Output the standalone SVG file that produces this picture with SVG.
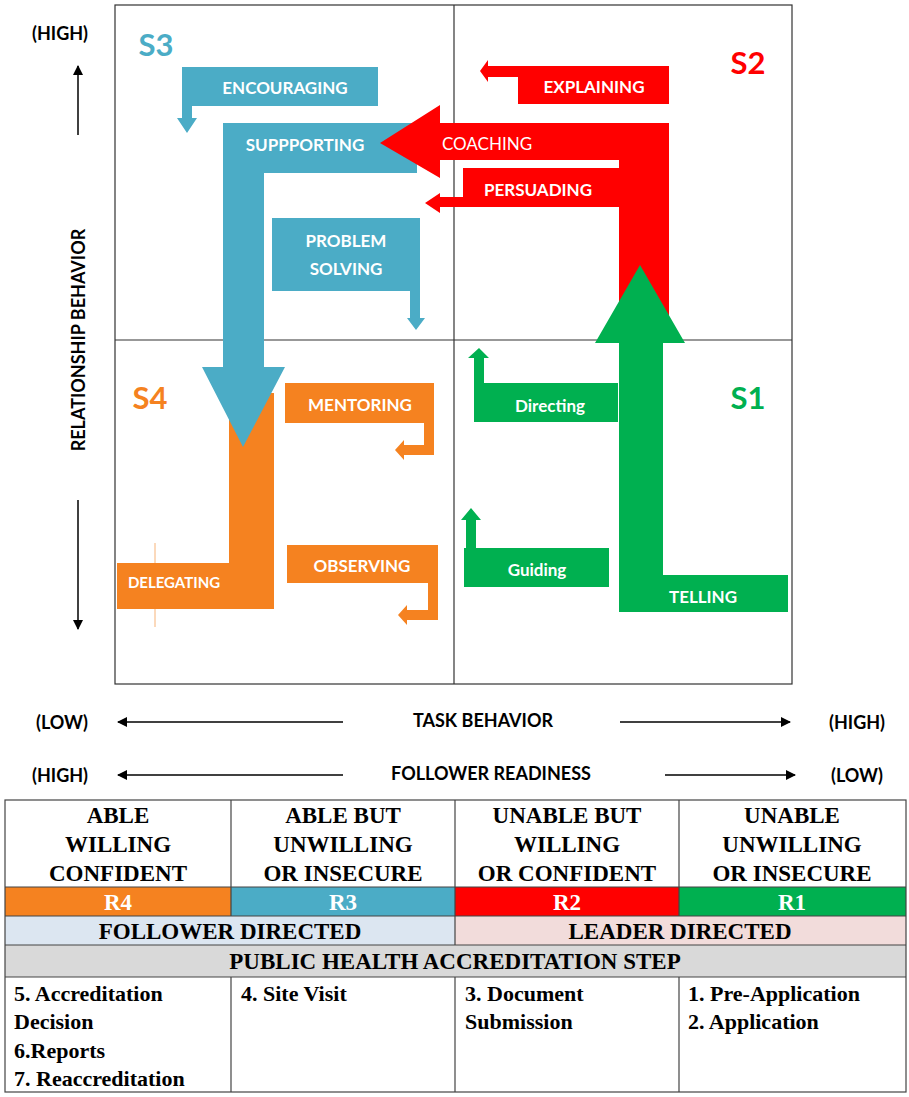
<svg xmlns="http://www.w3.org/2000/svg" width="909" height="1097" viewBox="0 0 909 1097">
<style>
.lb{font-family:Lato,"Open Sans",sans-serif;font-weight:bold;fill:#fff;font-size:17px;text-anchor:middle;dominant-baseline:central}
.ax{font-family:Lato,"Open Sans",sans-serif;font-weight:bold;fill:#000;font-size:18px;text-anchor:middle;dominant-baseline:central}
.s{font-family:Lato,"Open Sans",sans-serif;font-weight:bold;font-size:31px;text-anchor:middle;dominant-baseline:central}
.t{font-family:"Liberation Serif",serif;font-weight:bold;font-size:23px;text-anchor:middle;dominant-baseline:central}
.st{font-family:"Liberation Serif",serif;font-weight:bold;font-size:22px;dominant-baseline:central}
.ln{stroke:#000;stroke-width:1.5;fill:none}
.b{fill:#4BACC6}.r{fill:#FF0000}.g{fill:#00B050}.o{fill:#F58220}
</style>
<defs>
<marker id="ah" markerWidth="10" markerHeight="10" refX="9" refY="5" orient="auto" markerUnits="userSpaceOnUse"><path d="M0,0 L10,5 L0,10 Z" fill="#000"/></marker>
</defs>
<rect x="0" y="0" width="909" height="1097" fill="#fff"/>
<g id="quadrants">
<rect x="115" y="5" width="677" height="679" fill="none" stroke="#333" stroke-width="1.2"/>
<line x1="454" y1="5" x2="454" y2="684" stroke="#333" stroke-width="1.2"/>
<line x1="115" y1="340" x2="792" y2="340" stroke="#333" stroke-width="1.2"/>
</g>
<g id="S4-orange">
<line x1="155" y1="543" x2="155" y2="627" stroke="#F58220" stroke-width="1" opacity="0.6"/>
<path class="o" d="M229,393 H274 V609 H117 V563 H229 Z"/>
<text class="lb" x="174" y="582" style="font-size:15px">DELEGATING</text>
<path class="o" d="M285,383 H434 V455 H404 V460 L395,450 L404,440 V445 H424 V423 H285 Z"/>
<text class="lb" x="360" y="404">MENTORING</text>
<path class="o" d="M287,545 H438 V620 H407 V625 L398,615 L407,605 V610 H428 V583 H287 Z"/>
<text class="lb" x="362" y="565">OBSERVING</text>
<text class="s" x="150" y="397" fill="#F58220">S4</text>
</g>
<g id="S3-blue">
<path class="b" d="M182,67 H378 V106 H192 V118 H197 L187,133 L177,118 H182 Z"/>
<text class="lb" x="285" y="87">ENCOURAGING</text>
<path class="b" d="M223,123 H417 V173 H264 V367 H285 L243,447 L202,367 H223 Z"/>
<text class="lb" x="305" y="144">SUPPPORTING</text>
<path class="b" d="M272,218 H420 V318 H425 L416,330 L407,318 H410 V291 H272 Z"/>
<text class="lb" x="346" y="240">PROBLEM</text>
<text class="lb" x="346" y="268">SOLVING</text>
<text class="s" x="156" y="44" fill="#4BACC6">S3</text>
</g>
<g id="S2-red">
<path class="r" d="M518,66 H669 V104 H518 V77 H488 V82 L480,71 L488,60 V66 Z"/>
<text class="lb" x="594" y="86">EXPLAINING</text>
<rect class="r" x="619" y="123" width="50" height="195"/>
<path class="r" d="M463,168 H620 V207 H463 V207 H440 V213 L425,203 L440,193 V197 H463 Z"/>
<path class="r" d="M440,123 H669 V160 H440 V178 L380,143 L440,105 Z"/>
<text x="487" y="143" style="font-family:Lato,'Open Sans',sans-serif;font-size:17px;fill:#fff;text-anchor:middle;dominant-baseline:central">COACHING</text>
<text class="lb" x="538" y="189">PERSUADING</text>
<text class="s" x="748" y="62" fill="#FF0000">S2</text>
</g>
<g id="S1-green">
<path class="g" d="M640,265 L685,343 H663 V575 H788 V612 H619 V343 H595 Z"/>
<text class="lb" x="703" y="596">TELLING</text>
<path class="g" d="M474,383 H618 V422 H474 Z M474,383 V358 H468 L479,348 L489,358 H484 V383 Z"/>
<text class="lb" x="550" y="405">Directing</text>
<path class="g" d="M464,548 H609 V587 H464 Z M466,548 V520 H461 L471,508 L481,520 H476 V548 Z"/>
<text class="lb" x="537" y="569">Guiding</text>
<text class="s" x="748" y="397" fill="#00B050">S1</text>
</g>
<g id="axes">
<text class="ax" x="60" y="33">(HIGH)</text>
<line class="ln" x1="78" y1="135" x2="78" y2="66" marker-end="url(#ah)"/>
<line class="ln" x1="78" y1="500" x2="78" y2="629" marker-end="url(#ah)"/>
<text class="ax" transform="translate(78,340) rotate(-90)">RELATIONSHIP BEHAVIOR</text>
<text class="ax" x="62" y="722">(LOW)</text>
<line class="ln" x1="343" y1="722" x2="118" y2="722" marker-end="url(#ah)"/>
<text class="ax" x="483" y="720">TASK BEHAVIOR</text>
<line class="ln" x1="620" y1="722" x2="790" y2="722" marker-end="url(#ah)"/>
<text class="ax" x="857" y="722">(HIGH)</text>
<text class="ax" x="60" y="775">(HIGH)</text>
<line class="ln" x1="343" y1="775" x2="118" y2="775" marker-end="url(#ah)"/>
<text class="ax" x="491" y="773">FOLLOWER READINESS</text>
<line class="ln" x1="665" y1="775" x2="795" y2="775" marker-end="url(#ah)"/>
<text class="ax" x="857" y="775">(LOW)</text>
</g>
<g id="table">
<rect x="5" y="800" width="901" height="292" fill="#fff"/>
<rect x="5" y="887" width="226" height="29" fill="#F58220"/>
<rect x="231" y="887" width="224" height="29" fill="#4BACC6"/>
<rect x="455" y="887" width="224" height="29" fill="#FF0000"/>
<rect x="679" y="887" width="227" height="29" fill="#00B050"/>
<rect x="5" y="916" width="450" height="29" fill="#DCE6F1"/>
<rect x="455" y="916" width="451" height="29" fill="#F2DCDB"/>
<rect x="5" y="945" width="901" height="32" fill="#D9D9D9"/>
<g stroke="#444" stroke-width="1.2" fill="none">
<rect x="5" y="800" width="901" height="292"/>
<line x1="5" y1="887" x2="906" y2="887"/>
<line x1="5" y1="916" x2="906" y2="916"/>
<line x1="5" y1="945" x2="906" y2="945"/>
<line x1="5" y1="977" x2="906" y2="977"/>
<line x1="231" y1="800" x2="231" y2="916"/>
<line x1="455" y1="800" x2="455" y2="945"/>
<line x1="679" y1="800" x2="679" y2="916"/>
<line x1="231" y1="977" x2="231" y2="1092"/>
<line x1="455" y1="977" x2="455" y2="1092"/>
<line x1="679" y1="977" x2="679" y2="1092"/>
</g>
<text class="t" x="118" y="815">ABLE</text>
<text class="t" x="118" y="844">WILLING</text>
<text class="t" x="118" y="873">CONFIDENT</text>
<text class="t" x="343" y="815">ABLE BUT</text>
<text class="t" x="343" y="844">UNWILLING</text>
<text class="t" x="343" y="873">OR INSECURE</text>
<text class="t" x="567" y="815">UNABLE BUT</text>
<text class="t" x="567" y="844">WILLING</text>
<text class="t" x="567" y="873">OR CONFIDENT</text>
<text class="t" x="792" y="815">UNABLE</text>
<text class="t" x="792" y="844">UNWILLING</text>
<text class="t" x="792" y="873">OR INSECURE</text>
<text class="t" x="118" y="902" fill="#fff">R4</text>
<text class="t" x="343" y="902" fill="#fff">R3</text>
<text class="t" x="567" y="902" fill="#fff">R2</text>
<text class="t" x="792" y="902" fill="#fff">R1</text>
<text class="t" x="230" y="931">FOLLOWER DIRECTED</text>
<text class="t" x="680" y="931">LEADER DIRECTED</text>
<text class="t" x="455" y="961">PUBLIC HEALTH ACCREDITATION STEP</text>
<text class="st" x="14" y="993">5. Accreditation</text>
<text class="st" x="14" y="1021">Decision</text>
<text class="st" x="14" y="1050">6.Reports</text>
<text class="st" x="14" y="1078">7. Reaccreditation</text>
<text class="st" x="241" y="993">4. Site Visit</text>
<text class="st" x="465" y="993">3. Document</text>
<text class="st" x="465" y="1021">Submission</text>
<text class="st" x="688" y="993">1. Pre-Application</text>
<text class="st" x="688" y="1021">2. Application</text>
</g>
</svg>
